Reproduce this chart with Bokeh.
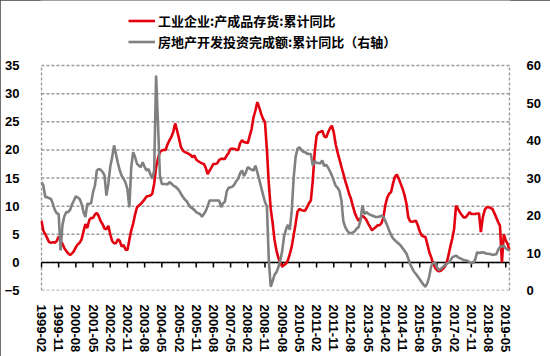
import numpy as np
import pandas as pd
from bokeh.plotting import figure
from bokeh.models import Range1d, LinearAxis, FixedTicker, Legend, LegendItem
from bokeh.embed import file_html
from bokeh.resources import INLINE

# ---------------- data ----------------
start_month = "1999-02"

# 工业企业:产成品存货:累计同比 (left axis, %)
inventory = [
    7.4, 5.6, 5.0, 4.3, 3.6, 3.5, 3.6, 3.5, 3.8, 4.6,
    3.8, 3.3, 2.5, 2.0, 1.6, 1.3, 1.6, 2.0, 2.7, 3.2,
    3.5, 4.1, 5.5, 6.8, 6.1, 7.5, 7.9, 7.9, 8.5, 8.8,
    8.2, 7.3, 6.8, 6.0, 5.9, 6.5, 5.0, 3.8, 3.4, 3.4,
    4.1, 3.8, 2.8, 3.1, 2.3, 2.2, 4.0, 5.7, 6.9, 8.5,
    9.8, 10.1, 10.4, 10.8, 11.2, 11.7, 11.8, 11.9, 12.2, 14.0,
    16.9, 18.5, 19.6, 19.9, 20.0, 20.0, 21.0, 21.7, 22.3, 23.2,
    24.7, 23.4, 22.0, 20.5, 19.9, 19.6, 19.5, 19.3, 19.1, 18.7,
    19.0, 18.3, 18.0, 17.8, 17.6, 17.5, 16.8, 15.7, 16.3, 16.9,
    17.5, 17.5, 17.6, 18.2, 18.4, 18.4, 18.4, 19.0, 19.5, 20.2,
    20.2, 20.2, 20.0, 20.0, 21.2, 21.7, 21.4, 21.3, 21.2, 22.5,
    23.7, 25.8, 27.0, 28.5, 27.5, 26.4, 25.5, 24.9, 20.0, 14.0,
    9.5, 7.0, 4.0, 2.1, 0.8, 0.0, -0.7, -0.5, -0.2, 0.4,
    1.5, 2.8, 4.8, 6.8, 9.0, 9.5, 9.3, 9.2, 9.2, 9.8,
    10.5, 11.0, 14.5, 19.5, 22.5, 23.1, 23.2, 23.4, 22.4, 22.2,
    23.1, 23.8, 24.3, 23.1, 21.0, 19.5, 18.3, 17.0, 15.8, 14.5,
    13.4, 12.2, 11.3, 10.0, 8.8, 8.0, 7.4, 7.8, 8.3, 8.0,
    7.6, 6.9, 6.3, 5.7, 6.0, 6.3, 6.6, 6.6, 7.0, 8.0,
    10.2, 11.5, 12.2, 12.5, 14.0, 15.2, 15.6, 14.9, 14.0, 13.1,
    12.0, 10.5, 8.0, 7.3, 7.2, 7.3, 7.4, 6.6, 5.5, 4.8,
    4.6, 4.5, 3.2, 1.8, 0.9, -0.2, -0.9, -1.4, -1.6, -1.5,
    -1.2, -0.8, -0.2, 1.2, 2.8, 4.2, 6.0, 10.1, 9.5, 8.9,
    8.4, 8.0, 8.0, 8.4, 8.9, 8.6, 8.6, 8.6, 8.7, 8.7,
    5.4, 8.0, 9.3, 9.8, 9.8, 9.7, 9.5, 8.8, 8.0, 7.2,
    6.5, 0.0, 5.0, 3.9, 3.3, 2.1,
]

# 房地产开发投资完成额:累计同比 (right axis, %)
realestate = [
    28.9, 28.0, 24.9, 24.9, 24.6, 24.4, 23.1, 21.5, 20.6, 20.4,
    10.7, 17.5, 19.8, 20.9, 20.9, 21.5, 23.0, 24.0, 25.1, 24.8,
    24.4, 23.1, 21.0, 19.6, 23.1, 23.1, 23.3, 26.2, 28.0, 32.0,
    32.4, 32.2, 31.6, 30.7, 25.3, 28.4, 33.0, 35.5, 38.7, 36.4,
    34.0, 32.0, 30.6, 29.8, 28.8, 27.0, 22.2, 32.9, 36.9, 35.6,
    33.8, 33.3, 32.9, 34.2, 32.9, 32.0, 32.4, 31.0, 29.8, 32.0,
    57.3, 44.4, 30.7, 28.4, 28.4, 28.4, 28.3, 28.9, 28.5, 28.0,
    27.7, 27.3, 26.7, 25.8, 25.0, 24.3, 23.8, 23.0, 22.2, 21.9,
    21.5, 20.9, 20.6, 20.4, 19.7, 20.4, 21.2, 22.5, 24.0, 24.0,
    24.0, 24.0, 24.0, 24.0, 22.2, 23.3, 23.6, 26.5, 27.4, 27.5,
    27.7, 28.3, 29.2, 29.8, 31.3, 32.0, 30.5, 31.5, 32.9, 32.5,
    32.2, 32.0, 33.3, 31.5, 29.6, 27.5, 25.5, 23.6, 22.5, 8.0,
    1.0, 2.5, 4.2, 4.9, 6.2, 8.0, 10.5, 14.5, 16.3, 17.5,
    16.2, 21.3, 30.0, 35.5, 37.8, 38.2, 37.5, 37.0, 36.9, 36.5,
    36.4, 36.4, 33.3, 34.5, 34.0, 34.0, 33.9, 34.7, 33.2, 33.5,
    32.8, 31.8, 30.7, 29.3, 27.9, 27.4, 26.5, 24.0, 18.5, 16.9,
    16.0, 15.4, 15.3, 15.5, 15.8, 16.5, 16.9, 18.7, 22.7, 20.4,
    20.9, 20.5, 20.2, 20.0, 19.8, 19.6, 19.6, 19.7, 20.0, 19.6,
    18.5, 17.3, 16.0, 14.8, 13.9, 13.4, 12.9, 12.5, 12.0, 11.3,
    10.6, 9.9, 8.5, 7.0, 6.0, 5.0, 4.4, 3.7, 3.0, 2.2,
    1.5, 1.0, 2.0, 3.8, 6.5, 7.3, 7.5, 6.2, 5.5, 5.8,
    6.2, 6.7, 7.1, 7.4, 8.0, 8.8, 9.1, 9.3, 8.9, 8.6,
    8.4, 8.1, 8.0, 7.9, 7.6, 7.3, 7.4, 8.2, 10.2, 10.0,
    10.1, 10.2, 10.0, 9.8, 9.8, 9.7, 9.5, 9.6, 9.6, 10.8,
    11.6, 11.8, 11.9, 11.2, 10.9, 10.6,
]

tick_labels = [
    "1999-02", "1999-11", "2000-08", "2001-05", "2002-02", "2002-11", "2003-08",
    "2004-05", "2005-02", "2005-11", "2006-08", "2007-05", "2008-02", "2008-11",
    "2009-08", "2010-05", "2011-02", "2011-11", "2012-08", "2013-05", "2014-02",
    "2014-11", "2015-08", "2016-05", "2017-02", "2017-11", "2018-08", "2019-05",
]
left_ticks = [-5, 0, 5, 10, 15, 20, 25, 30, 35]
right_ticks = [0, 10, 20, 30, 40, 50, 60]

label_inv = "工业企业:产成品存货:累计同比"
label_re = "房地产开发投资完成额:累计同比（右轴）"

# ---------------- build ----------------
n = len(inventory)
months = list(pd.period_range(start_month, periods=n, freq="M").strftime("%Y-%m"))
x = np.arange(n)
tick_pos = [months.index(t) for t in tick_labels]

RED = "#e3000f"
GRAY = "#808080"
GRID = "#9a9a9a"
FONT = "Liberation Sans"

W, H = 550, 356
FRAME_LEFT, FRAME_RIGHT, AXIS_TOP, FRAME_BOTTOM = 41, 509, 65, 290

# the frame reaches the top of the picture so that the legend can sit inside it;
# the value area keeps the reference's pixel extent (65..290)
lmin, lmax = left_ticks[0], left_ticks[-1]
rmin, rmax = right_ticks[0], right_ticks[-1]
extra = AXIS_TOP / (FRAME_BOTTOM - AXIS_TOP)
left_top = lmax + (lmax - lmin) * extra
right_top = rmax + (rmax - rmin) * extra

p = figure(width=W, height=H, output_backend="svg", toolbar_location=None,
           x_range=Range1d(-0.5, n - 0.5), y_range=Range1d(lmin, left_top),
           min_border_left=FRAME_LEFT - 1, min_border_right=W - FRAME_RIGHT - 1,
           min_border_top=0, min_border_bottom=H - FRAME_BOTTOM)
p.extra_y_ranges = {"right": Range1d(rmin, right_top)}
p.background_fill_color = "white"
p.border_fill_color = "white"
p.outline_line_color = None
p.styles = {"outline": "1px solid #404040", "outline-offset": "-1px"}

# x axis (labels at bottom)
xa = p.xaxis[0]
xa.ticker = FixedTicker(ticks=tick_pos)
xa.major_label_overrides = {pos: lab for pos, lab in zip(tick_pos, tick_labels)}
xa.major_label_orientation = "vertical"
xa.axis_line_color = None
xa.major_tick_line_color = None
xa.minor_tick_line_color = None
xa.major_label_standoff = 8
xa.major_label_text_font = FONT
xa.major_label_text_font_style = "bold"
xa.major_label_text_font_size = "13px"
xa.major_label_text_color = "#000000"

# left axis
ya = p.yaxis[0]
ya.ticker = FixedTicker(ticks=left_ticks)
ya.axis_line_color = None
ya.major_tick_line_color = None
ya.minor_tick_line_color = None
ya.major_label_standoff = 15
ya.major_label_text_font = FONT
ya.major_label_text_font_style = "bold"
ya.major_label_text_font_size = "13px"
ya.major_label_text_color = "#000000"

# right axis
ra = LinearAxis(y_range_name="right", ticker=FixedTicker(ticks=right_ticks))
ra.axis_line_color = None
ra.major_tick_line_color = None
ra.minor_tick_line_color = None
ra.major_label_standoff = 10
ra.major_label_text_font = FONT
ra.major_label_text_font_style = "bold"
ra.major_label_text_font_size = "13px"
ra.major_label_text_color = "#000000"
p.add_layout(ra, "right")

p.xgrid.grid_line_color = None
p.ygrid.grid_line_color = None

# dashed horizontal gridlines at the left-axis ticks
p.segment(x0=[0] * len(left_ticks), y0=left_ticks,
          x1=[n - 1] * len(left_ticks), y1=left_ticks,
          line_color=GRID, line_dash="3 2", line_width=1.5)

# dashed side borders of the value area
p.segment(x0=[0, n - 1], y0=[lmin, lmin], x1=[0, n - 1], y1=[lmax, lmax],
          line_color=GRID, line_dash="3 2", line_width=1.5)

# zero line with tick marks
p.segment(x0=[0], y0=[0], x1=[n - 1], y1=[0], line_color="#000000", line_width=1.5)
p.segment(x0=tick_pos, y0=[0] * len(tick_pos), x1=tick_pos, y1=[-0.9] * len(tick_pos),
          line_color="#000000", line_width=1.5)

r_inv = p.line(x, inventory, line_color=RED, line_width=2.6)
r_re = p.line(x, realestate, line_color=GRAY, line_width=2.6, y_range_name="right")

legend = Legend(items=[LegendItem(label=label_inv, renderers=[r_inv]),
                       LegendItem(label=label_re, renderers=[r_re])],
                location=(88, FRAME_BOTTOM - 52), orientation="vertical",
                padding=0, spacing=0, margin=0,
                glyph_width=27, glyph_height=21, label_height=21,
                label_standoff=3,
                label_text_font="Noto Sans CJK SC", label_text_font_style="bold",
                label_text_font_size="13px", label_text_color="#000000",
                border_line_alpha=0, background_fill_alpha=0)
p.add_layout(legend, "center")

open("out.html", "w").write(file_html(p, INLINE))
